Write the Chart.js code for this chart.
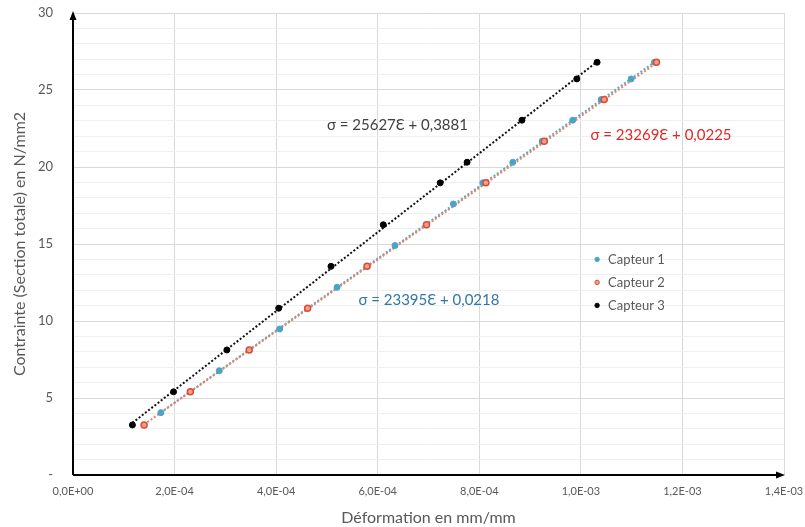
<!DOCTYPE html>
<html>
<head>
<meta charset="utf-8">
<script src="https://cdn.jsdelivr.net/npm/chart.js@4.4.1/dist/chart.umd.min.js"></script>
<style>
  html,body{margin:0;padding:0;background:#fff;}
  #wrap{width:805px;height:527px;}
</style>
</head>
<body>
<div id="wrap"><canvas id="chart" width="805" height="527"></canvas></div>
<script>
// ---------- données ----------
const seriesNames = ['Capteur 1','Capteur 2','Capteur 3'];

// Capteur 1 (bleu)
const c1Strain = [1.73e-4,2.88e-4,4.07e-4,5.20e-4,6.34e-4,7.49e-4,8.07e-4,8.66e-4,9.24e-4,9.84e-4,1.040e-3,1.099e-3,1.145e-3];
const c1Stress = [4.05,6.77,9.48,12.19,14.9,17.6,18.97,20.31,21.68,23.04,24.38,25.72,26.8];

// Capteur 2 (rouge)
const c2Strain = [1.40e-4,2.31e-4,3.47e-4,4.62e-4,5.79e-4,6.96e-4,8.13e-4,9.28e-4,1.046e-3,1.149e-3];
const c2Stress = [3.25,5.4,8.12,10.83,13.55,16.25,18.97,21.68,24.38,26.8];

// Capteur 3 (noir)
const c3Strain = [1.17e-4,1.98e-4,3.03e-4,4.05e-4,5.08e-4,6.11e-4,7.23e-4,7.76e-4,8.84e-4,9.92e-4,1.032e-3];
const c3Stress = [3.25,5.4,8.12,10.83,13.55,16.25,18.97,20.31,23.04,25.72,26.8];

// courbes de tendance (pente, ordonnée) affichées sur le graphique
const trendSlope = [23395,23269,25627];
const trendIntercept = [0.0218,0.0225,0.3881];
const trendLabels = ['σ = 23395Ɛ + 0,0218','σ = 23269Ɛ + 0,0225','σ = 25627Ɛ + 0,3881'];

const xTickLabels = ['0,0E+00','2,0E-04','4,0E-04','6,0E-04','8,0E-04','1,0E-03','1,2E-03','1,4E-03'];
const yTickLabels = ['-','5','10','15','20','25','30'];

// ---------- styles ----------
const markerFill = ['#4aa3c8','#f0a08c','#000000'];
const markerBorder = ['#4aa3c8','#dc4a34','#000000'];
const trendColor = ['#5aa8c8','#e0866a','#111111'];
const eqColor = ['#2f78a8','#e02828','#404040'];
const eqPos = [[5.62e-4,11.35],[1.019e-3,22.1],[5.0e-4,22.7]]; // position des équations (coord. données)
const FONT = 'Lato, "Open Sans", sans-serif';
const GRAY = '#595959';

const pts = (xs,ys)=> xs.map((x,i)=>({x, y:ys[i]}));
const allStrain = [c1Strain,c2Strain,c3Strain];
const allStress = [c1Stress,c2Stress,c3Stress];

function trendPoints(i){
  const xs = allStrain[i];
  const x0 = Math.min(...xs), x1 = Math.max(...xs);
  return [x0,x1].map(x=>({x, y: trendSlope[i]*x + trendIntercept[i]}));
}

const datasets = [];
// tendances d'abord (dessous)
[2,1,0].forEach(i=>{
  datasets.push({
    label:'trend'+i, data:trendPoints(i), type:'line', showLine:true,
    borderColor:trendColor[i], borderWidth:2, borderDash:[2,2],
    pointRadius:0, order:10-i
  });
});
[0,1,2].forEach(i=>{
  datasets.push({
    label:seriesNames[i], data:pts(allStrain[i],allStress[i]),
    backgroundColor:markerFill[i], borderColor:markerBorder[i],
    borderWidth:i===1?1.5:1, pointRadius:3, pointHoverRadius:3, showLine:false, order:3-i
  });
});

// ---------- plugins maison : axes fléchés, équations, légende ----------
const decorPlugin = {
  id:'decor',
  afterDatasetsDraw(chart){
    const {ctx, chartArea:a, scales:{x,y}} = chart;
    ctx.save();
    // axes noirs avec flèches
    ctx.strokeStyle='#000'; ctx.fillStyle='#000'; ctx.lineWidth=2;
    ctx.beginPath();
    ctx.moveTo(a.left, a.bottom); ctx.lineTo(a.left, a.top+2);
    ctx.moveTo(a.left, a.bottom); ctx.lineTo(a.right-4, a.bottom);
    ctx.stroke();
    ctx.beginPath();
    ctx.moveTo(a.left, a.top-2); ctx.lineTo(a.left-3.5, a.top+7); ctx.lineTo(a.left+3.5, a.top+7); ctx.closePath();
    ctx.moveTo(a.right+1, a.bottom); ctx.lineTo(a.right-8, a.bottom-3.5); ctx.lineTo(a.right-8, a.bottom+3.5); ctx.closePath();
    ctx.fill();

    // équations des tendances
    ctx.font = '15px '+FONT;
    ctx.textBaseline='middle'; ctx.textAlign='left';
    trendLabels.forEach((t,i)=>{
      ctx.fillStyle = eqColor[i];
      ctx.fillText(t, x.getPixelForValue(eqPos[i][0]), y.getPixelForValue(eqPos[i][1]));
    });

    // légende dans la zone de tracé
    const lx = x.getPixelForValue(1.032e-3), ly0 = y.getPixelForValue(14.0);
    ctx.font = '13px '+FONT;
    seriesNames.forEach((n,i)=>{
      const ly = ly0 + i*23;
      ctx.beginPath();
      ctx.arc(lx, ly, 2.2, 0, Math.PI*2);
      ctx.fillStyle = markerFill[i]; ctx.fill();
      ctx.lineWidth=1; ctx.strokeStyle=markerBorder[i]; ctx.stroke();
      ctx.fillStyle = GRAY;
      ctx.fillText(n, lx+11, ly);
    });
    ctx.restore();
  }
};

new Chart(document.getElementById('chart').getContext('2d'),{
  type:'scatter',
  data:{datasets},
  options:{
    responsive:false, animation:false,
    layout:{padding:{top:13,right:21,left:0,bottom:0}},
    plugins:{legend:{display:false}, tooltip:{enabled:false}},
    scales:{
      x:{
        type:'linear', min:0, max:1.4e-3,
        ticks:{stepSize:2e-4, autoSkip:false, maxRotation:0, padding:10,
          color:GRAY, font:{family:FONT,size:11},
          callback:(v,i)=>xTickLabels[i]},
        grid:{color:'#d9d9d9', drawTicks:false},
        border:{display:false},
        title:{display:true, text:'Déformation en mm/mm', color:GRAY,
          font:{family:FONT,size:16}, padding:{top:2,bottom:0}},
        afterFit(s){ s.height = 52; s.paddingLeft = 0; s.paddingRight = 0; }
      },
      y:{
        type:'linear', min:0, max:30,
        ticks:{stepSize:1, autoSkip:false, padding:20,
          color:GRAY, font:{family:FONT,size:13},
          callback:(v)=> v%5===0 ? yTickLabels[v/5] : ''},
        grid:{drawTicks:false,
          color:(c)=> c.tick && c.tick.value%5===0 ? '#d9d9d9' : '#efefef'},
        border:{display:false},
        title:{display:true, text:'Contrainte (Section totale) en N/mm2', color:GRAY,
          font:{family:FONT,size:16}, padding:{top:10,bottom:0}},
        afterFit(s){ s.width = 73; s.paddingTop = 0; s.paddingBottom = 0; }
      }
    }
  },
  plugins:[decorPlugin]
});
</script>
</body>
</html>
